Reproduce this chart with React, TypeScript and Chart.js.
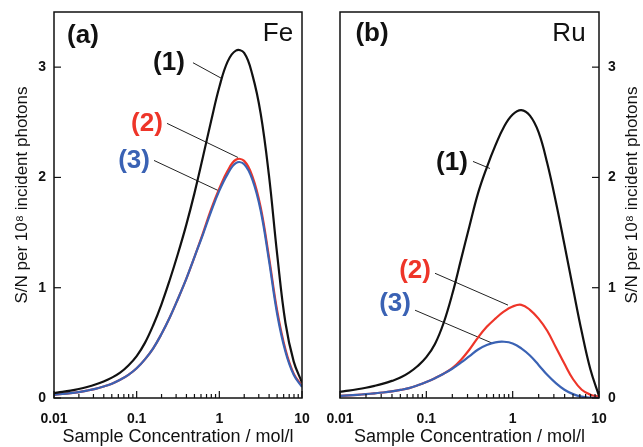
import React, { useEffect, useRef } from 'react';
import { Chart, registerables } from 'chart.js';

Chart.register(...registerables);

const FONT = "'Liberation Sans', Arial, Helvetica, sans-serif";

// Sample concentration (mol/l), log-spaced grid (0.1 decade steps)
const concentration = [
  0.01, 0.01259, 0.01585, 0.01995, 0.02512, 0.03162, 0.03981, 0.05012, 0.0631, 0.07943,
  0.1, 0.1259, 0.1585, 0.1995, 0.2512, 0.3162, 0.3981, 0.5012, 0.631, 0.7943,
  1, 1.259, 1.585, 1.995, 2.512, 3.162, 3.981, 5.012, 6.31, 7.943, 10,
];

// Panel (a) Fe
const fe1 = [0.045, 0.055, 0.067, 0.082, 0.1, 0.122, 0.15, 0.185, 0.23, 0.295, 0.38, 0.5, 0.66, 0.85, 1.07, 1.31, 1.57, 1.86, 2.18, 2.51, 2.82, 3.05, 3.15, 3.13, 2.93, 2.58, 2.02, 1.3, 0.68, 0.33, 0.14];
const fe2 = [0.03, 0.036, 0.044, 0.054, 0.067, 0.083, 0.104, 0.13, 0.165, 0.21, 0.27, 0.35, 0.45, 0.58, 0.73, 0.9, 1.08, 1.28, 1.49, 1.71, 1.9, 2.06, 2.16, 2.15, 2.01, 1.73, 1.28, 0.79, 0.44, 0.22, 0.11];
const fe3 = [0.03, 0.036, 0.044, 0.054, 0.067, 0.083, 0.104, 0.13, 0.165, 0.21, 0.27, 0.35, 0.45, 0.58, 0.73, 0.9, 1.08, 1.28, 1.48, 1.69, 1.88, 2.03, 2.13, 2.12, 1.98, 1.7, 1.25, 0.76, 0.42, 0.21, 0.1];

// Panel (b) Ru
const ru1 = [0.057, 0.067, 0.079, 0.093, 0.11, 0.13, 0.155, 0.185, 0.23, 0.29, 0.37, 0.49, 0.68, 0.94, 1.25, 1.56, 1.86, 2.09, 2.29, 2.46, 2.57, 2.61, 2.56, 2.41, 2.13, 1.78, 1.39, 0.99, 0.6, 0.26, 0.02];
const ru2 = [0.02, 0.024, 0.029, 0.035, 0.042, 0.05, 0.06, 0.073, 0.09, 0.115, 0.145, 0.18, 0.22, 0.27, 0.345, 0.44, 0.55, 0.645, 0.72, 0.785, 0.83, 0.845, 0.8, 0.72, 0.61, 0.46, 0.31, 0.17, 0.075, 0.03, 0.01];
const ru3 = [0.02, 0.024, 0.029, 0.035, 0.042, 0.05, 0.06, 0.073, 0.09, 0.115, 0.145, 0.18, 0.22, 0.265, 0.32, 0.38, 0.44, 0.48, 0.505, 0.51, 0.495, 0.45, 0.385, 0.3, 0.21, 0.135, 0.075, 0.035, 0.012, 0.003, 0.0];

const xTicks = [0.01, 0.1, 1, 10];
const yTicks = [0, 1, 2, 3];
const xTitle = 'Sample Concentration / mol/l';
const yTitle = 'S/N per 10\u2078 incident photons';

const BLACK = '#111111';
const RED = '#ee3529';
const BLUE = '#3a62b4';

type Ann = { text: string; color: string; at: number[]; from: number[]; to: number[] };

const feAnn: Ann[] = [
  { text: '(1)', color: BLACK, at: [0.246, 3.04], from: [0.48, 3.04], to: [1.077, 2.896] },
  { text: '(2)', color: RED, at: [0.133, 2.49], from: [0.233, 2.49], to: [1.68, 2.181] },
  { text: '(3)', color: BLUE, at: [0.093, 2.154], from: [0.162, 2.154], to: [0.964, 1.882] },
];
const ruAnn: Ann[] = [
  { text: '(1)', color: BLACK, at: [0.198, 2.136], from: [0.347, 2.145], to: [0.546, 2.081] },
  { text: '(2)', color: RED, at: [0.074, 1.149], from: [0.126, 1.131], to: [0.883, 0.842] },
  { text: '(3)', color: BLUE, at: [0.0434, 0.851], from: [0.074, 0.796], to: [0.577, 0.498] },
];

type PanelProps = {
  side: 'left' | 'right';
  series: { values: number[]; color: string }[];
  tag: string;
  tagAt: number[];
  element: string;
  elementAt: number[];
  ann: Ann[];
  left: number;
  width: number;
};

function Panel(props: PanelProps) {
  const ref = useRef<HTMLCanvasElement>(null);
  useEffect(() => {
    const isLeft = props.side === 'left';
    const decor = {
      id: 'decor',
      beforeDatasetsDraw(chart: any) {
        const ctx = chart.ctx;
        const xs = chart.scales.x;
        const ys = chart.scales.y;
        ctx.save();
        ctx.strokeStyle = '#222';
        ctx.lineWidth = 1;
        props.ann.forEach((a) => {
          ctx.beginPath();
          ctx.moveTo(xs.getPixelForValue(a.from[0]), ys.getPixelForValue(a.from[1]));
          ctx.lineTo(xs.getPixelForValue(a.to[0]), ys.getPixelForValue(a.to[1]));
          ctx.stroke();
        });
        ctx.restore();
      },
      afterDraw(chart: any) {
        const ctx = chart.ctx;
        const { left, right, top, bottom } = chart.chartArea;
        const xs = chart.scales.x;
        const ys = chart.scales.y;
        ctx.save();
        ctx.strokeStyle = '#111';
        ctx.lineWidth = 1.5;
        ctx.strokeRect(left, top, right - left, bottom - top);
        ctx.lineWidth = 1.2;
        for (let d = -2; d <= 1; d++) {
          for (let k = 1; k <= 9; k++) {
            const v = k * Math.pow(10, d);
            if (v > 10.0001) break;
            const px = xs.getPixelForValue(v);
            const len = k === 1 ? 7 : 4;
            ctx.beginPath();
            ctx.moveTo(px, bottom);
            ctx.lineTo(px, bottom - len);
            ctx.stroke();
          }
        }
        yTicks.forEach((v) => {
          const py = ys.getPixelForValue(v);
          ctx.beginPath();
          if (isLeft) {
            ctx.moveTo(left, py);
            ctx.lineTo(left + 7, py);
          } else {
            ctx.moveTo(right, py);
            ctx.lineTo(right - 7, py);
          }
          ctx.stroke();
        });
        ctx.fillStyle = '#111';
        ctx.font = `18px ${FONT}`;
        ctx.textAlign = 'center';
        ctx.textBaseline = 'middle';
        ctx.fillText(xTitle, (left + right) / 2, 437);
        ctx.save();
        const tx = isLeft ? 22 : right + 33;
        ctx.translate(tx, 195);
        ctx.rotate(-Math.PI / 2);
        ctx.font = `17px ${FONT}`;
        ctx.fillText(yTitle, 0, 0);
        ctx.restore();
        ctx.font = `bold 26px ${FONT}`;
        ctx.fillText(props.tag, xs.getPixelForValue(props.tagAt[0]), ys.getPixelForValue(props.tagAt[1]));
        ctx.font = `26px ${FONT}`;
        ctx.fillText(props.element, xs.getPixelForValue(props.elementAt[0]), ys.getPixelForValue(props.elementAt[1]));
        ctx.font = `bold 26px ${FONT}`;
        props.ann.forEach((a) => {
          ctx.fillStyle = a.color;
          ctx.fillText(a.text, xs.getPixelForValue(a.at[0]), ys.getPixelForValue(a.at[1]));
        });
        ctx.restore();
      },
    };

    const chart = new Chart(ref.current as HTMLCanvasElement, {
      type: 'line',
      data: {
        datasets: props.series.map((s) => ({
          data: concentration.map((c, i) => ({ x: c, y: s.values[i] })),
          borderColor: s.color,
          borderWidth: 2.2,
          pointRadius: 0,
          fill: false,
          tension: 0.4,
        })),
      },
      options: {
        responsive: false,
        animation: false,
        layout: { padding: { top: 12, left: isLeft ? 0 : 20, right: isLeft ? 18 : 0, bottom: 0 } },
        plugins: { legend: { display: false }, tooltip: { enabled: false } },
        scales: {
          x: {
            type: 'logarithmic',
            min: 0.01,
            max: 10,
            position: 'bottom',
            grid: { display: false, drawTicks: false, tickLength: 0 },
            border: { display: false },
            afterBuildTicks: (s: any) => {
              s.ticks = xTicks.map((v) => ({ value: v, major: true }));
            },
            afterFit: (s: any) => {
              s.height = 49;
              s.paddingLeft = 0;
              s.paddingRight = 0;
            },
            ticks: {
              callback: (v: any) => String(v),
              font: { family: FONT, size: 14, weight: 'bold' },
              color: '#111',
              padding: 13,
              maxRotation: 0,
              autoSkip: false,
            },
          },
          y: {
            type: 'linear',
            min: 0,
            max: 3.5,
            position: isLeft ? 'left' : 'right',
            grid: { display: false, drawTicks: false, tickLength: 0 },
            border: { display: false },
            afterBuildTicks: (s: any) => {
              s.ticks = yTicks.map((v) => ({ value: v }));
            },
            afterFit: (s: any) => {
              s.width = isLeft ? 54 : 44;
              s.paddingTop = 0;
              s.paddingBottom = 0;
            },
            ticks: {
              font: { family: FONT, size: 14, weight: 'bold' },
              color: '#111',
              padding: isLeft ? 8 : 9,
            },
          },
        },
      } as any,
      plugins: [decor],
    });
    return () => chart.destroy();
  }, []);
  return (
    <canvas
      ref={ref}
      width={props.width}
      height={447}
      style={{ position: 'absolute', left: props.left, top: 0, width: props.width, height: 447 }}
    />
  );
}

export default function App() {
  return (
    <div style={{ position: 'fixed', left: 0, top: 0, width: 643, height: 447, background: '#fff', overflow: 'hidden' }}>
      <Panel
        side="left"
        left={0}
        width={320}
        tag="(a)"
        tagAt={[0.0224, 3.285]}
        element="Fe"
        elementAt={[5.12, 3.3]}
        ann={feAnn}
        series={[
          { values: fe1, color: BLACK },
          { values: fe3, color: BLUE },
          { values: fe2, color: RED },
        ]}
      />
      <Panel
        side="right"
        left={320}
        width={323}
        tag="(b)"
        tagAt={[0.0235, 3.3]}
        element="Ru"
        elementAt={[4.49, 3.3]}
        ann={ruAnn}
        series={[
          { values: ru1, color: BLACK },
          { values: ru3, color: BLUE },
          { values: ru2, color: RED },
        ]}
      />
    </div>
  );
}
